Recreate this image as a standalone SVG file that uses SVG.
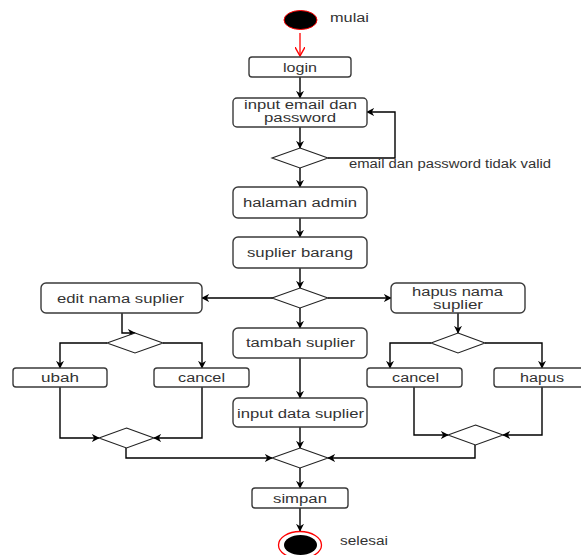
<svg xmlns="http://www.w3.org/2000/svg" width="581" height="555" viewBox="0 0 581 555">
  <defs>
    <marker id="arr" viewBox="0 0 10 10" refX="9" refY="5" markerWidth="8" markerHeight="8" orient="auto" markerUnits="userSpaceOnUse">
      <path d="M0,0 L10,5 L0,10 L3,5 z" fill="#000"/>
    </marker>
    <marker id="open" viewBox="0 0 10 10" refX="9" refY="5" markerWidth="10" markerHeight="10" orient="auto" markerUnits="userSpaceOnUse">
      <path d="M0,0 L9,5 L0,10" fill="none" stroke="#f00" stroke-width="1.4"/>
    </marker>
  </defs>
  <style>
    .box { fill: #fff; stroke: #3a3a3a; stroke-width: 1.4; }
    .dia { fill: #fff; stroke: #222; stroke-width: 1.1; }
    .lbl { font-family: "Liberation Sans", Arial, sans-serif; font-size: 12.5px; fill: #333; text-anchor: middle; }
    .side { font-family: "Liberation Sans", Arial, sans-serif; font-size: 12.5px; fill: #333; }
    .edge { fill: none; stroke: #000; stroke-width: 1.4; marker-end: url(#arr); }
  </style>
  <rect width="581" height="555" fill="#fff"/>

  <!-- connectors -->
  <g id="connectors">
    <path d="M300,33 L300,56" fill="none" stroke="#f00" stroke-width="1.3" marker-end="url(#open)"/>
    <path class="edge" d="M300,77 L300,98"/>
    <path class="edge" d="M300,127 L300,148"/>
    <path class="edge" d="M328,158 L395,158 L395,112 L367,112"/>
    <path class="edge" d="M300,168 L300,187"/>
    <path class="edge" d="M300,218 L300,237"/>
    <path class="edge" d="M300,268 L300,288"/>
    <path class="edge" d="M273,298 L202,298"/>
    <path class="edge" d="M328,298 L391,298"/>
    <path class="edge" d="M300,308 L300,328"/>
    <path class="edge" d="M300,358 L300,398"/>
    <path class="edge" d="M300,427 L300,448"/>
    <path class="edge" d="M122,313 L122,333 L135,333"/>
    <path class="edge" d="M107,343 L60,343 L60,368"/>
    <path class="edge" d="M163,343 L202,343 L202,368"/>
    <path class="edge" d="M60,387 L60,438 L99,438"/>
    <path class="edge" d="M202,387 L202,438 L154,438"/>
    <path class="edge" d="M126,448 L126,458 L272,458"/>
    <path class="edge" d="M458,313 L458,333" stroke-width="2"/>
    <path class="edge" d="M431,343 L390,343 L390,368"/>
    <path class="edge" d="M485,343 L542,343 L542,368"/>
    <path class="edge" d="M414,387 L414,435 L448,435"/>
    <path class="edge" d="M542,387 L542,435 L503,435"/>
    <path class="edge" d="M475,445 L475,458 L328,458"/>
    <path class="edge" d="M300,468 L300,488"/>
    <path class="edge" d="M300,508 L300,531"/>
    <text class="side" x="349" y="168" textLength="202" lengthAdjust="spacingAndGlyphs">email dan password tidak valid</text>
  </g>

  <g id="start">
    <ellipse cx="300.5" cy="20" rx="16.5" ry="9.5" fill="#000" stroke="#f00" stroke-width="1"/>
    <text class="side" x="330" y="22" textLength="39" lengthAdjust="spacingAndGlyphs">mulai</text>
  </g>

  <g id="login">
    <rect class="box" x="249" y="57" width="102" height="20" rx="3"/>
    <text class="lbl" x="300" y="72" textLength="34" lengthAdjust="spacingAndGlyphs">login</text>
  </g>

  <g id="input-email">
    <rect class="box" x="233" y="98" width="134" height="29" rx="4"/>
    <text class="lbl" x="300.5" y="109" textLength="113" lengthAdjust="spacingAndGlyphs">input email dan</text>
    <text class="lbl" x="300" y="122" textLength="72" lengthAdjust="spacingAndGlyphs">password</text>
  </g>

  <g id="cek-login">
    <polygon class="dia" points="300,148 328,158 300,168 272,158"/>
  </g>

  <g id="halaman-admin">
    <rect class="box" x="233" y="187" width="134" height="31" rx="5"/>
    <text class="lbl" x="300" y="207" textLength="114" lengthAdjust="spacingAndGlyphs">halaman admin</text>
  </g>

  <g id="suplier-barang">
    <rect class="box" x="233" y="237" width="134" height="31" rx="5"/>
    <text class="lbl" x="300" y="257" textLength="106" lengthAdjust="spacingAndGlyphs">suplier barang</text>
  </g>

  <g id="pilih-aksi">
    <polygon class="dia" points="300,288 328,298 300,308 272,298"/>
  </g>

  <g id="edit-nama">
    <rect class="box" x="41" y="283" width="161" height="30" rx="5"/>
    <text class="lbl" x="120.5" y="303" textLength="127" lengthAdjust="spacingAndGlyphs">edit nama suplier</text>
  </g>

  <g id="hapus-nama">
    <rect class="box" x="391" y="283" width="134" height="30" rx="5"/>
    <text class="lbl" x="457.5" y="296" textLength="91" lengthAdjust="spacingAndGlyphs">hapus nama</text>
    <text class="lbl" x="458" y="309" textLength="50" lengthAdjust="spacingAndGlyphs">suplier</text>
  </g>

  <g id="tambah-suplier">
    <rect class="box" x="233" y="328" width="134" height="30" rx="5"/>
    <text class="lbl" x="300.5" y="347" textLength="109" lengthAdjust="spacingAndGlyphs">tambah suplier</text>
  </g>

  <g id="input-data">
    <rect class="box" x="233" y="398" width="134" height="29" rx="5"/>
    <text class="lbl" x="300.5" y="418" textLength="127" lengthAdjust="spacingAndGlyphs">input data suplier</text>
  </g>

  <g id="pilih-edit">
    <polygon class="dia" points="135,333 163,343 135,353 107,343"/>
  </g>

  <g id="ubah">
    <rect class="box" x="13" y="368" width="94" height="19" rx="3"/>
    <text class="lbl" x="60" y="382" textLength="38" lengthAdjust="spacingAndGlyphs">ubah</text>
  </g>

  <g id="cancel-edit">
    <rect class="box" x="154" y="368" width="95" height="19" rx="3"/>
    <text class="lbl" x="201.5" y="382" textLength="47" lengthAdjust="spacingAndGlyphs">cancel</text>
  </g>

  <g id="gabung-edit">
    <polygon class="dia" points="126.5,428 154,438 126.5,448 99,438"/>
  </g>

  <g id="pilih-hapus">
    <polygon class="dia" points="458,333 485,343 458,353 431,343"/>
  </g>

  <g id="cancel-hapus">
    <rect class="box" x="367" y="368" width="95" height="19" rx="3"/>
    <text class="lbl" x="415.5" y="382" textLength="47" lengthAdjust="spacingAndGlyphs">cancel</text>
  </g>

  <g id="hapus">
    <rect class="box" x="494" y="368" width="96" height="19" rx="3"/>
    <text class="lbl" x="542" y="382" textLength="44" lengthAdjust="spacingAndGlyphs">hapus</text>
  </g>

  <g id="gabung-hapus">
    <polygon class="dia" points="475.5,425 503,435 475.5,445 448,435"/>
  </g>

  <g id="gabung-akhir">
    <polygon class="dia" points="300,448 328,458 300,468 272,458"/>
  </g>

  <g id="simpan">
    <rect class="box" x="252" y="488" width="96" height="20" rx="3"/>
    <text class="lbl" x="300" y="503" textLength="54" lengthAdjust="spacingAndGlyphs">simpan</text>
  </g>

  <g id="end">
    <ellipse cx="300" cy="545" rx="21.5" ry="13.5" fill="#fff" stroke="#f00" stroke-width="1.3"/>
    <ellipse cx="300.5" cy="545" rx="16.5" ry="10" fill="#000"/>
    <text class="side" x="340" y="545" textLength="48" lengthAdjust="spacingAndGlyphs">selesai</text>
  </g>
</svg>
